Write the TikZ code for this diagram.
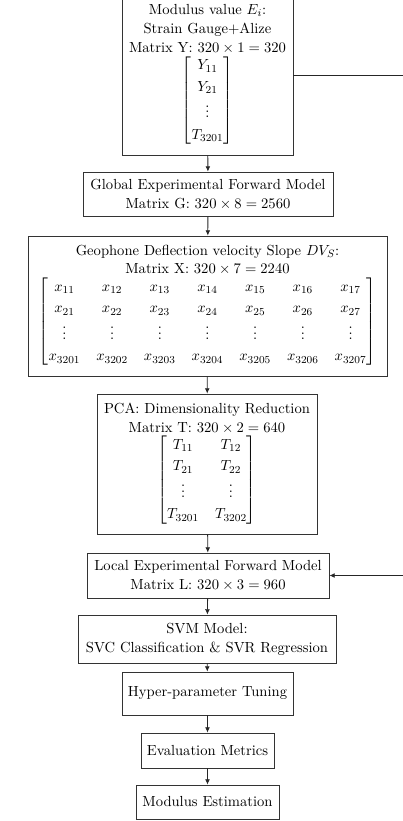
\documentclass[tikz,border=0pt]{standalone}
\usepackage{amsmath}
\usetikzlibrary{arrows.meta}
\renewcommand{\arraystretch}{1.13}
\setlength{\arraycolsep}{6pt}
\tikzset{
  box/.style={draw=black!80, line width=0.6pt, fill=white, align=center,
    inner sep=0pt, font=\fontsize{10.95}{14.2}\selectfont},
  flow/.style={draw=black!85, line width=0.6pt, -{Latex[length=4pt,width=3.6pt]}},
  link/.style={draw=black!85, line width=0.6pt}
}
\begin{document}
\begin{tikzpicture}[x=0.75pt,y=-0.75pt]
\clip (0,0) rectangle (403,821);
\node[box, minimum width=128.25pt, minimum height=120pt] (b1) at (207.5,75)
  {Modulus value $E_i$:\\ Strain Gauge+Alize\\ Matrix Y: $320\times 1=320$\\
   $\begin{bmatrix} Y_{11}\\ Y_{21}\\ \vdots\\ T_{3201}\end{bmatrix}$};
\node[box, minimum width=187.5pt, minimum height=33pt] (b2) at (208,194)
  {Global Experimental Forward Model\\ Matrix G: $320\times 8=2560$};
\node[box, minimum width=269.25pt, minimum height=105pt] (b3) at (207.5,306)
  {Geophone Deflection velocity Slope $DV_S$:\\ Matrix X: $320\times 7=2240$\\
   $\begin{bmatrix}
   x_{11} & x_{12} & x_{13} & x_{14} & x_{15} & x_{16} & x_{17}\\
   x_{21} & x_{22} & x_{23} & x_{24} & x_{25} & x_{26} & x_{27}\\
   \vdots & \vdots & \vdots & \vdots & \vdots & \vdots & \vdots\\
   x_{3201} & x_{3202} & x_{3203} & x_{3204} & x_{3205} & x_{3206} & x_{3207}
   \end{bmatrix}$};
\node[box, minimum width=165pt, minimum height=105pt] (b4) at (207,464)
  {PCA: Dimensionality Reduction\\ Matrix T: $320\times 2=640$\\
   $\begin{bmatrix} T_{11} & T_{12}\\ T_{21} & T_{22}\\ \vdots & \vdots\\ T_{3201} & T_{3202}\end{bmatrix}$};
\node[box, minimum width=181.5pt, minimum height=33.75pt] (b5) at (208,575.5)
  {Local Experimental Forward Model\\ Matrix L: $320\times 3=960$};
\node[box, minimum width=193.5pt, minimum height=36pt] (b6) at (207,639)
  {SVM Model:\\ SVC Classification \& SVR Regression};
\node[box, minimum width=128.25pt, minimum height=32.25pt] (b7) at (207.5,693.5)
  {Hyper-parameter Tuning};
\node[box, minimum width=99.75pt, minimum height=26.25pt] (b8) at (207.5,750.5)
  {Evaluation Metrics};
\node[box, minimum width=107.25pt, minimum height=25.5pt] (b9) at (207.5,802)
  {Modulus Estimation};
\coordinate (r1) at (404,75);
\coordinate (r2) at (404,575.5);
\draw[flow] (b1) -- (b2);
\draw[flow] (b2) -- (b3);
\draw[flow] (b3) -- (b4);
\draw[flow] (b4) -- (b5);
\draw[flow] (b5) -- (b6);
\draw[flow] (b6) -- (b7);
\draw[flow] (b7) -- (b8);
\draw[flow] (b8) -- (b9);
\draw[link] (b1.east) -- (r1);
\draw[flow] (r2) -- (b5.east);
\end{tikzpicture}
\end{document}
